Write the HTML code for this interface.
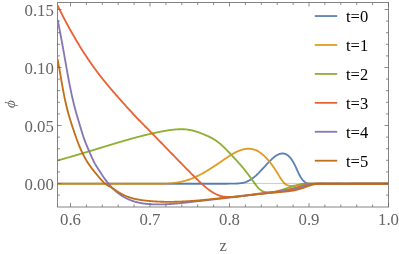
<!DOCTYPE html>
<html><head><meta charset="utf-8"><title>plot</title>
<style>html,body{margin:0;padding:0;background:#fff;width:399px;height:254px;overflow:hidden}body{position:relative;font-family:"Liberation Serif",serif}</style>
</head><body>
<svg width="399" height="254" viewBox="0 0 399 254" style="position:absolute;left:0;top:0">
<rect width="399" height="254" fill="#fff"/>
<defs><clipPath id="c"><rect x="57.50" y="2.50" width="331.00" height="204.50"/></clipPath></defs>
<g clip-path="url(#c)" fill="none" stroke-width="1.85" stroke-linejoin="round" stroke-linecap="butt">
<path d="M57.50 183.72 L57.97 183.72 L58.45 183.72 L58.92 183.72 L59.39 183.72 L59.87 183.72 L60.34 183.72 L60.81 183.72 L61.29 183.72 L61.76 183.72 L62.24 183.72 L62.71 183.72 L63.18 183.72 L63.66 183.72 L64.13 183.72 L64.60 183.72 L65.08 183.72 L65.55 183.72 L66.02 183.72 L66.50 183.72 L66.97 183.72 L67.44 183.72 L67.92 183.72 L68.39 183.72 L68.86 183.72 L69.34 183.72 L69.81 183.72 L70.29 183.72 L70.76 183.72 L71.23 183.72 L71.71 183.72 L72.18 183.72 L72.65 183.72 L73.13 183.72 L73.60 183.72 L74.07 183.72 L74.55 183.72 L75.02 183.72 L75.49 183.72 L75.97 183.72 L76.44 183.72 L76.91 183.72 L77.39 183.72 L77.86 183.72 L78.34 183.72 L78.81 183.72 L79.28 183.72 L79.76 183.72 L80.23 183.72 L80.70 183.72 L81.18 183.72 L81.65 183.72 L82.12 183.72 L82.60 183.72 L83.07 183.72 L83.54 183.72 L84.02 183.72 L84.49 183.72 L84.96 183.72 L85.44 183.72 L85.91 183.72 L86.39 183.72 L86.86 183.72 L87.33 183.72 L87.81 183.72 L88.28 183.72 L88.75 183.72 L89.23 183.72 L89.70 183.72 L90.17 183.72 L90.65 183.72 L91.12 183.72 L91.59 183.72 L92.07 183.72 L92.54 183.72 L93.02 183.72 L93.49 183.72 L93.96 183.72 L94.44 183.72 L94.91 183.72 L95.38 183.72 L95.86 183.72 L96.33 183.72 L96.80 183.72 L97.28 183.72 L97.75 183.72 L98.22 183.72 L98.70 183.72 L99.17 183.72 L99.64 183.72 L100.12 183.72 L100.59 183.72 L101.07 183.72 L101.54 183.72 L102.01 183.72 L102.49 183.72 L102.96 183.72 L103.43 183.72 L103.91 183.72 L104.38 183.72 L104.85 183.72 L105.33 183.72 L105.80 183.72 L106.27 183.72 L106.75 183.72 L107.22 183.72 L107.69 183.72 L108.17 183.72 L108.64 183.72 L109.12 183.72 L109.59 183.72 L110.06 183.72 L110.54 183.72 L111.01 183.72 L111.48 183.72 L111.96 183.72 L112.43 183.72 L112.90 183.72 L113.38 183.72 L113.85 183.72 L114.32 183.72 L114.80 183.72 L115.27 183.72 L115.74 183.72 L116.22 183.72 L116.69 183.72 L117.17 183.72 L117.64 183.72 L118.11 183.72 L118.59 183.72 L119.06 183.72 L119.53 183.72 L120.01 183.72 L120.48 183.72 L120.95 183.72 L121.43 183.72 L121.90 183.72 L122.37 183.72 L122.85 183.72 L123.32 183.72 L123.79 183.72 L124.27 183.72 L124.74 183.72 L125.22 183.72 L125.69 183.72 L126.16 183.72 L126.64 183.72 L127.11 183.72 L127.58 183.72 L128.06 183.72 L128.53 183.72 L129.00 183.72 L129.48 183.72 L129.95 183.72 L130.42 183.72 L130.90 183.72 L131.37 183.72 L131.84 183.72 L132.32 183.72 L132.79 183.72 L133.27 183.72 L133.74 183.72 L134.21 183.72 L134.69 183.72 L135.16 183.72 L135.63 183.72 L136.11 183.72 L136.58 183.72 L137.05 183.72 L137.53 183.72 L138.00 183.72 L138.47 183.72 L138.95 183.72 L139.42 183.72 L139.89 183.72 L140.37 183.72 L140.84 183.72 L141.32 183.72 L141.79 183.72 L142.26 183.72 L142.74 183.72 L143.21 183.72 L143.68 183.72 L144.16 183.72 L144.63 183.72 L145.10 183.72 L145.58 183.72 L146.05 183.72 L146.52 183.72 L147.00 183.72 L147.47 183.72 L147.94 183.72 L148.42 183.72 L148.89 183.72 L149.37 183.72 L149.84 183.72 L150.31 183.72 L150.79 183.72 L151.26 183.72 L151.73 183.72 L152.21 183.72 L152.68 183.72 L153.15 183.72 L153.63 183.72 L154.10 183.72 L154.57 183.72 L155.05 183.72 L155.52 183.72 L155.99 183.72 L156.47 183.72 L156.94 183.72 L157.42 183.72 L157.89 183.72 L158.36 183.72 L158.84 183.72 L159.31 183.72 L159.78 183.72 L160.26 183.72 L160.73 183.72 L161.20 183.72 L161.68 183.72 L162.15 183.72 L162.62 183.72 L163.10 183.72 L163.57 183.72 L164.05 183.72 L164.52 183.72 L164.99 183.72 L165.47 183.72 L165.94 183.72 L166.41 183.72 L166.89 183.72 L167.36 183.72 L167.83 183.72 L168.31 183.72 L168.78 183.72 L169.25 183.72 L169.73 183.72 L170.20 183.72 L170.67 183.72 L171.15 183.72 L171.62 183.72 L172.10 183.72 L172.57 183.72 L173.04 183.72 L173.52 183.72 L173.99 183.72 L174.46 183.72 L174.94 183.72 L175.41 183.72 L175.88 183.72 L176.36 183.72 L176.83 183.72 L177.30 183.72 L177.78 183.72 L178.25 183.72 L178.72 183.72 L179.20 183.72 L179.67 183.72 L180.15 183.72 L180.62 183.72 L181.09 183.72 L181.57 183.72 L182.04 183.72 L182.51 183.72 L182.99 183.72 L183.46 183.72 L183.93 183.72 L184.41 183.72 L184.88 183.72 L185.35 183.72 L185.83 183.72 L186.30 183.72 L186.77 183.72 L187.25 183.72 L187.72 183.72 L188.20 183.72 L188.67 183.72 L189.14 183.72 L189.62 183.72 L190.09 183.72 L190.56 183.72 L191.04 183.72 L191.51 183.72 L191.98 183.72 L192.46 183.72 L192.93 183.72 L193.40 183.72 L193.88 183.72 L194.35 183.71 L194.82 183.71 L195.30 183.71 L195.77 183.71 L196.25 183.71 L196.72 183.71 L197.19 183.71 L197.67 183.71 L198.14 183.71 L198.61 183.71 L199.09 183.71 L199.56 183.71 L200.03 183.71 L200.51 183.71 L200.98 183.71 L201.45 183.71 L201.93 183.71 L202.40 183.71 L202.87 183.71 L203.35 183.71 L203.82 183.71 L204.30 183.71 L204.77 183.71 L205.24 183.71 L205.72 183.71 L206.19 183.72 L206.66 183.72 L207.14 183.72 L207.61 183.72 L208.08 183.72 L208.56 183.72 L209.03 183.72 L209.50 183.72 L209.98 183.72 L210.45 183.72 L210.92 183.72 L211.40 183.72 L211.87 183.72 L212.35 183.72 L212.82 183.72 L213.29 183.72 L213.77 183.72 L214.24 183.72 L214.71 183.72 L215.19 183.72 L215.66 183.72 L216.13 183.72 L216.61 183.72 L217.08 183.72 L217.55 183.72 L218.03 183.72 L218.50 183.72 L218.97 183.72 L219.45 183.72 L219.92 183.72 L220.40 183.72 L220.87 183.72 L221.34 183.72 L221.82 183.72 L222.29 183.72 L222.76 183.72 L223.24 183.72 L223.71 183.72 L224.18 183.72 L224.66 183.72 L225.13 183.72 L225.60 183.72 L226.08 183.72 L226.55 183.71 L227.03 183.71 L227.50 183.70 L227.97 183.70 L228.45 183.70 L228.92 183.69 L229.39 183.69 L229.87 183.68 L230.34 183.67 L230.81 183.67 L231.29 183.66 L231.76 183.65 L232.23 183.65 L232.71 183.64 L233.18 183.63 L233.65 183.62 L234.13 183.61 L234.60 183.60 L235.08 183.59 L235.55 183.58 L236.02 183.56 L236.50 183.55 L236.97 183.53 L237.44 183.50 L237.92 183.47 L238.39 183.44 L238.86 183.41 L239.34 183.36 L239.81 183.32 L240.28 183.26 L240.76 183.20 L241.23 183.14 L241.70 183.06 L242.18 182.98 L242.65 182.89 L243.13 182.78 L243.60 182.67 L244.07 182.55 L244.55 182.42 L245.02 182.28 L245.49 182.13 L245.97 181.96 L246.44 181.78 L246.91 181.59 L247.39 181.39 L247.86 181.17 L248.33 180.94 L248.81 180.70 L249.28 180.44 L249.75 180.17 L250.23 179.88 L250.70 179.59 L251.18 179.28 L251.65 178.96 L252.12 178.63 L252.60 178.28 L253.07 177.93 L253.54 177.57 L254.02 177.19 L254.49 176.80 L254.96 176.41 L255.44 176.00 L255.91 175.59 L256.38 175.16 L256.86 174.73 L257.33 174.29 L257.80 173.83 L258.28 173.38 L258.75 172.91 L259.23 172.43 L259.70 171.95 L260.17 171.46 L260.65 170.97 L261.12 170.47 L261.59 169.96 L262.07 169.45 L262.54 168.93 L263.01 168.42 L263.49 167.89 L263.96 167.37 L264.43 166.85 L264.91 166.33 L265.38 165.80 L265.85 165.28 L266.33 164.76 L266.80 164.24 L267.28 163.73 L267.75 163.22 L268.22 162.71 L268.70 162.22 L269.17 161.72 L269.64 161.24 L270.12 160.76 L270.59 160.29 L271.06 159.83 L271.54 159.38 L272.01 158.94 L272.48 158.51 L272.96 158.10 L273.43 157.70 L273.90 157.31 L274.38 156.93 L274.85 156.57 L275.33 156.23 L275.80 155.91 L276.27 155.60 L276.75 155.31 L277.22 155.03 L277.69 154.78 L278.17 154.55 L278.64 154.34 L279.11 154.15 L279.59 153.98 L280.06 153.84 L280.53 153.72 L281.01 153.62 L281.48 153.55 L281.95 153.51 L282.43 153.49 L282.90 153.50 L283.38 153.54 L283.85 153.60 L284.32 153.70 L284.80 153.83 L285.27 153.98 L285.74 154.17 L286.22 154.39 L286.69 154.65 L287.16 154.94 L287.64 155.26 L288.11 155.62 L288.58 156.01 L289.06 156.44 L289.53 156.91 L290.01 157.42 L290.48 157.97 L290.95 158.57 L291.43 159.21 L291.90 159.89 L292.37 160.61 L292.85 161.39 L293.32 162.21 L293.79 163.08 L294.27 164.00 L294.74 164.95 L295.21 165.93 L295.69 166.94 L296.16 167.96 L296.63 169.00 L297.11 170.03 L297.58 171.06 L298.06 172.08 L298.53 173.08 L299.00 174.05 L299.48 174.99 L299.95 175.88 L300.42 176.73 L300.90 177.52 L301.37 178.26 L301.84 178.93 L302.32 179.54 L302.79 180.10 L303.26 180.61 L303.74 181.07 L304.21 181.48 L304.68 181.85 L305.16 182.18 L305.63 182.46 L306.11 182.71 L306.58 182.93 L307.05 183.12 L307.53 183.27 L308.00 183.41 L308.47 183.51 L308.95 183.60 L309.42 183.67 L309.89 183.72 L310.37 183.72 L310.84 183.72 L311.31 183.72 L311.79 183.72 L312.26 183.72 L312.73 183.72 L313.21 183.72 L313.68 183.72 L314.16 183.72 L314.63 183.72 L315.10 183.72 L315.58 183.72 L316.05 183.72 L316.52 183.72 L317.00 183.72 L317.47 183.72 L317.94 183.72 L318.42 183.72 L318.89 183.72 L319.36 183.72 L319.84 183.72 L320.31 183.72 L320.78 183.72 L321.26 183.72 L321.73 183.72 L322.21 183.72 L322.68 183.72 L323.15 183.72 L323.63 183.72 L324.10 183.72 L324.57 183.72 L325.05 183.72 L325.52 183.72 L325.99 183.72 L326.47 183.72 L326.94 183.72 L327.41 183.72 L327.89 183.72 L328.36 183.72 L328.83 183.72 L329.31 183.72 L329.78 183.72 L330.26 183.72 L330.73 183.72 L331.20 183.72 L331.68 183.72 L332.15 183.72 L332.62 183.72 L333.10 183.72 L333.57 183.72 L334.04 183.72 L334.52 183.72 L334.99 183.72 L335.46 183.71 L335.94 183.70 L336.41 183.70 L336.88 183.69 L337.36 183.68 L337.83 183.68 L338.31 183.67 L338.78 183.66 L339.25 183.66 L339.73 183.65 L340.20 183.65 L340.67 183.65 L341.15 183.64 L341.62 183.64 L342.09 183.64 L342.57 183.63 L343.04 183.63 L343.51 183.63 L343.99 183.63 L344.46 183.63 L344.93 183.62 L345.41 183.62 L345.88 183.62 L346.36 183.62 L346.83 183.62 L347.30 183.62 L347.78 183.62 L348.25 183.63 L348.72 183.63 L349.20 183.63 L349.67 183.63 L350.14 183.63 L350.62 183.63 L351.09 183.63 L351.56 183.64 L352.04 183.64 L352.51 183.64 L352.98 183.64 L353.46 183.65 L353.93 183.65 L354.41 183.65 L354.88 183.66 L355.35 183.66 L355.83 183.66 L356.30 183.67 L356.77 183.67 L357.25 183.67 L357.72 183.68 L358.19 183.68 L358.67 183.69 L359.14 183.69 L359.61 183.69 L360.09 183.70 L360.56 183.70 L361.04 183.71 L361.51 183.71 L361.98 183.71 L362.46 183.72 L362.93 183.72 L363.40 183.72 L363.88 183.72 L364.35 183.72 L364.82 183.72 L365.30 183.72 L365.77 183.72 L366.24 183.72 L366.72 183.72 L367.19 183.72 L367.66 183.72 L368.14 183.72 L368.61 183.72 L369.09 183.72 L369.56 183.72 L370.03 183.72 L370.51 183.72 L370.98 183.72 L371.45 183.72 L371.93 183.72 L372.40 183.72 L372.87 183.72 L373.35 183.72 L373.82 183.72 L374.29 183.72 L374.77 183.72 L375.24 183.72 L375.71 183.72 L376.19 183.72 L376.66 183.72 L377.14 183.72 L377.61 183.72 L378.08 183.72 L378.56 183.72 L379.03 183.72 L379.50 183.72 L379.98 183.72 L380.45 183.72 L380.92 183.72 L381.40 183.72 L381.87 183.72 L382.34 183.72 L382.82 183.72 L383.29 183.72 L383.76 183.72 L384.24 183.72 L384.71 183.72 L385.19 183.72 L385.66 183.71 L386.13 183.70 L386.61 183.70 L387.08 183.69 L387.55 183.68 L388.03 183.67 L388.50 183.66" stroke="#5E81B5"/>
<path d="M57.50 183.70 L57.97 183.70 L58.45 183.70 L58.92 183.71 L59.39 183.71 L59.87 183.71 L60.34 183.71 L60.81 183.71 L61.29 183.71 L61.76 183.71 L62.24 183.72 L62.71 183.72 L63.18 183.72 L63.66 183.72 L64.13 183.72 L64.60 183.72 L65.08 183.72 L65.55 183.72 L66.02 183.72 L66.50 183.72 L66.97 183.72 L67.44 183.72 L67.92 183.72 L68.39 183.72 L68.86 183.72 L69.34 183.72 L69.81 183.72 L70.29 183.72 L70.76 183.72 L71.23 183.72 L71.71 183.72 L72.18 183.72 L72.65 183.72 L73.13 183.72 L73.60 183.72 L74.07 183.72 L74.55 183.72 L75.02 183.72 L75.49 183.72 L75.97 183.72 L76.44 183.72 L76.91 183.72 L77.39 183.72 L77.86 183.72 L78.34 183.72 L78.81 183.72 L79.28 183.72 L79.76 183.72 L80.23 183.72 L80.70 183.72 L81.18 183.72 L81.65 183.72 L82.12 183.72 L82.60 183.72 L83.07 183.72 L83.54 183.72 L84.02 183.72 L84.49 183.72 L84.96 183.72 L85.44 183.72 L85.91 183.72 L86.39 183.72 L86.86 183.72 L87.33 183.72 L87.81 183.72 L88.28 183.72 L88.75 183.72 L89.23 183.72 L89.70 183.72 L90.17 183.72 L90.65 183.72 L91.12 183.72 L91.59 183.72 L92.07 183.72 L92.54 183.72 L93.02 183.72 L93.49 183.72 L93.96 183.72 L94.44 183.72 L94.91 183.72 L95.38 183.72 L95.86 183.72 L96.33 183.72 L96.80 183.72 L97.28 183.72 L97.75 183.72 L98.22 183.72 L98.70 183.72 L99.17 183.72 L99.64 183.71 L100.12 183.71 L100.59 183.71 L101.07 183.71 L101.54 183.71 L102.01 183.71 L102.49 183.71 L102.96 183.71 L103.43 183.71 L103.91 183.71 L104.38 183.71 L104.85 183.71 L105.33 183.71 L105.80 183.71 L106.27 183.71 L106.75 183.70 L107.22 183.70 L107.69 183.70 L108.17 183.70 L108.64 183.70 L109.12 183.70 L109.59 183.70 L110.06 183.70 L110.54 183.70 L111.01 183.70 L111.48 183.70 L111.96 183.70 L112.43 183.70 L112.90 183.70 L113.38 183.70 L113.85 183.70 L114.32 183.70 L114.80 183.70 L115.27 183.70 L115.74 183.70 L116.22 183.70 L116.69 183.70 L117.17 183.70 L117.64 183.70 L118.11 183.70 L118.59 183.70 L119.06 183.70 L119.53 183.70 L120.01 183.70 L120.48 183.70 L120.95 183.70 L121.43 183.70 L121.90 183.70 L122.37 183.70 L122.85 183.70 L123.32 183.70 L123.79 183.70 L124.27 183.70 L124.74 183.70 L125.22 183.70 L125.69 183.70 L126.16 183.70 L126.64 183.70 L127.11 183.70 L127.58 183.70 L128.06 183.70 L128.53 183.70 L129.00 183.70 L129.48 183.70 L129.95 183.70 L130.42 183.71 L130.90 183.71 L131.37 183.71 L131.84 183.71 L132.32 183.71 L132.79 183.71 L133.27 183.71 L133.74 183.71 L134.21 183.71 L134.69 183.72 L135.16 183.72 L135.63 183.72 L136.11 183.72 L136.58 183.72 L137.05 183.72 L137.53 183.72 L138.00 183.72 L138.47 183.72 L138.95 183.72 L139.42 183.72 L139.89 183.72 L140.37 183.72 L140.84 183.72 L141.32 183.72 L141.79 183.72 L142.26 183.72 L142.74 183.72 L143.21 183.72 L143.68 183.72 L144.16 183.72 L144.63 183.72 L145.10 183.72 L145.58 183.72 L146.05 183.72 L146.52 183.72 L147.00 183.72 L147.47 183.72 L147.94 183.72 L148.42 183.72 L148.89 183.72 L149.37 183.72 L149.84 183.72 L150.31 183.72 L150.79 183.72 L151.26 183.72 L151.73 183.72 L152.21 183.72 L152.68 183.72 L153.15 183.72 L153.63 183.72 L154.10 183.72 L154.57 183.72 L155.05 183.72 L155.52 183.72 L155.99 183.72 L156.47 183.72 L156.94 183.72 L157.42 183.72 L157.89 183.72 L158.36 183.72 L158.84 183.72 L159.31 183.72 L159.78 183.72 L160.26 183.72 L160.73 183.72 L161.20 183.72 L161.68 183.72 L162.15 183.72 L162.62 183.72 L163.10 183.72 L163.57 183.72 L164.05 183.70 L164.52 183.69 L164.99 183.67 L165.47 183.65 L165.94 183.62 L166.41 183.60 L166.89 183.58 L167.36 183.55 L167.83 183.52 L168.31 183.49 L168.78 183.45 L169.25 183.42 L169.73 183.38 L170.20 183.34 L170.67 183.30 L171.15 183.26 L171.62 183.21 L172.10 183.17 L172.57 183.12 L173.04 183.07 L173.52 183.01 L173.99 182.95 L174.46 182.89 L174.94 182.83 L175.41 182.77 L175.88 182.70 L176.36 182.63 L176.83 182.56 L177.30 182.48 L177.78 182.40 L178.25 182.32 L178.72 182.24 L179.20 182.15 L179.67 182.06 L180.15 181.97 L180.62 181.87 L181.09 181.77 L181.57 181.67 L182.04 181.56 L182.51 181.45 L182.99 181.34 L183.46 181.22 L183.93 181.10 L184.41 180.98 L184.88 180.85 L185.35 180.72 L185.83 180.58 L186.30 180.44 L186.77 180.30 L187.25 180.15 L187.72 180.00 L188.20 179.85 L188.67 179.69 L189.14 179.53 L189.62 179.36 L190.09 179.19 L190.56 179.02 L191.04 178.84 L191.51 178.66 L191.98 178.47 L192.46 178.28 L192.93 178.08 L193.40 177.88 L193.88 177.68 L194.35 177.48 L194.82 177.27 L195.30 177.05 L195.77 176.84 L196.25 176.61 L196.72 176.39 L197.19 176.16 L197.67 175.93 L198.14 175.70 L198.61 175.46 L199.09 175.22 L199.56 174.98 L200.03 174.73 L200.51 174.48 L200.98 174.23 L201.45 173.97 L201.93 173.71 L202.40 173.45 L202.87 173.19 L203.35 172.92 L203.82 172.65 L204.30 172.38 L204.77 172.11 L205.24 171.83 L205.72 171.55 L206.19 171.27 L206.66 170.99 L207.14 170.70 L207.61 170.41 L208.08 170.12 L208.56 169.83 L209.03 169.54 L209.50 169.24 L209.98 168.94 L210.45 168.64 L210.92 168.34 L211.40 168.04 L211.87 167.73 L212.35 167.43 L212.82 167.12 L213.29 166.81 L213.77 166.50 L214.24 166.19 L214.71 165.87 L215.19 165.56 L215.66 165.24 L216.13 164.93 L216.61 164.61 L217.08 164.29 L217.55 163.97 L218.03 163.65 L218.50 163.33 L218.97 163.01 L219.45 162.68 L219.92 162.36 L220.40 162.04 L220.87 161.71 L221.34 161.39 L221.82 161.06 L222.29 160.73 L222.76 160.41 L223.24 160.08 L223.71 159.76 L224.18 159.43 L224.66 159.11 L225.13 158.79 L225.60 158.47 L226.08 158.15 L226.55 157.83 L227.03 157.51 L227.50 157.20 L227.97 156.89 L228.45 156.58 L228.92 156.27 L229.39 155.97 L229.87 155.67 L230.34 155.37 L230.81 155.08 L231.29 154.79 L231.76 154.50 L232.23 154.22 L232.71 153.94 L233.18 153.67 L233.65 153.41 L234.13 153.14 L234.60 152.89 L235.08 152.64 L235.55 152.39 L236.02 152.15 L236.50 151.92 L236.97 151.69 L237.44 151.47 L237.92 151.26 L238.39 151.05 L238.86 150.85 L239.34 150.66 L239.81 150.48 L240.28 150.30 L240.76 150.13 L241.23 149.97 L241.70 149.82 L242.18 149.68 L242.65 149.55 L243.13 149.42 L243.60 149.31 L244.07 149.20 L244.55 149.11 L245.02 149.02 L245.49 148.94 L245.97 148.88 L246.44 148.82 L246.91 148.78 L247.39 148.74 L247.86 148.72 L248.33 148.71 L248.81 148.71 L249.28 148.72 L249.75 148.74 L250.23 148.78 L250.70 148.83 L251.18 148.89 L251.65 148.96 L252.12 149.05 L252.60 149.14 L253.07 149.26 L253.54 149.38 L254.02 149.52 L254.49 149.67 L254.96 149.84 L255.44 150.02 L255.91 150.22 L256.38 150.43 L256.86 150.65 L257.33 150.89 L257.80 151.14 L258.28 151.41 L258.75 151.69 L259.23 151.98 L259.70 152.29 L260.17 152.61 L260.65 152.95 L261.12 153.29 L261.59 153.66 L262.07 154.03 L262.54 154.42 L263.01 154.83 L263.49 155.24 L263.96 155.67 L264.43 156.11 L264.91 156.57 L265.38 157.04 L265.85 157.52 L266.33 158.01 L266.80 158.52 L267.28 159.04 L267.75 159.57 L268.22 160.12 L268.70 160.67 L269.17 161.24 L269.64 161.83 L270.12 162.42 L270.59 163.03 L271.06 163.65 L271.54 164.28 L272.01 164.92 L272.48 165.58 L272.96 166.25 L273.43 166.93 L273.90 167.62 L274.38 168.32 L274.85 169.03 L275.33 169.76 L275.80 170.50 L276.27 171.25 L276.75 172.01 L277.22 172.78 L277.69 173.55 L278.17 174.33 L278.64 175.11 L279.11 175.89 L279.59 176.66 L280.06 177.42 L280.53 178.16 L281.01 178.88 L281.48 179.58 L281.95 180.26 L282.43 180.91 L282.90 181.53 L283.38 182.11 L283.85 182.65 L284.32 183.14 L284.80 183.60 L285.27 184.00 L285.74 184.35 L286.22 184.65 L286.69 184.91 L287.16 185.13 L287.64 185.31 L288.11 185.46 L288.58 185.58 L289.06 185.68 L289.53 185.75 L290.01 185.81 L290.48 185.85 L290.95 185.87 L291.43 185.88 L291.90 185.87 L292.37 185.85 L292.85 185.81 L293.32 185.77 L293.79 185.71 L294.27 185.64 L294.74 185.57 L295.21 185.49 L295.69 185.40 L296.16 185.31 L296.63 185.22 L297.11 185.12 L297.58 185.02 L298.06 184.92 L298.53 184.82 L299.00 184.72 L299.48 184.62 L299.95 184.53 L300.42 184.44 L300.90 184.35 L301.37 184.28 L301.84 184.20 L302.32 184.13 L302.79 184.07 L303.26 184.01 L303.74 183.95 L304.21 183.90 L304.68 183.85 L305.16 183.81 L305.63 183.77 L306.11 183.73 L306.58 183.72 L307.05 183.72 L307.53 183.72 L308.00 183.72 L308.47 183.72 L308.95 183.72 L309.42 183.72 L309.89 183.72 L310.37 183.72 L310.84 183.72 L311.31 183.72 L311.79 183.72 L312.26 183.72 L312.73 183.72 L313.21 183.72 L313.68 183.72 L314.16 183.72 L314.63 183.72 L315.10 183.72 L315.58 183.72 L316.05 183.72 L316.52 183.72 L317.00 183.72 L317.47 183.72 L317.94 183.72 L318.42 183.72 L318.89 183.72 L319.36 183.72 L319.84 183.72 L320.31 183.72 L320.78 183.72 L321.26 183.72 L321.73 183.73 L322.21 183.74 L322.68 183.75 L323.15 183.76 L323.63 183.77 L324.10 183.78 L324.57 183.78 L325.05 183.79 L325.52 183.80 L325.99 183.80 L326.47 183.81 L326.94 183.81 L327.41 183.81 L327.89 183.81 L328.36 183.82 L328.83 183.82 L329.31 183.82 L329.78 183.82 L330.26 183.82 L330.73 183.82 L331.20 183.82 L331.68 183.82 L332.15 183.81 L332.62 183.81 L333.10 183.81 L333.57 183.81 L334.04 183.80 L334.52 183.80 L334.99 183.80 L335.46 183.79 L335.94 183.79 L336.41 183.78 L336.88 183.78 L337.36 183.77 L337.83 183.77 L338.31 183.77 L338.78 183.76 L339.25 183.76 L339.73 183.75 L340.20 183.75 L340.67 183.74 L341.15 183.74 L341.62 183.73 L342.09 183.73 L342.57 183.72 L343.04 183.72 L343.51 183.72 L343.99 183.72 L344.46 183.72 L344.93 183.72 L345.41 183.72 L345.88 183.72 L346.36 183.72 L346.83 183.72 L347.30 183.72 L347.78 183.72 L348.25 183.72 L348.72 183.72 L349.20 183.72 L349.67 183.72 L350.14 183.72 L350.62 183.72 L351.09 183.72 L351.56 183.72 L352.04 183.72 L352.51 183.72 L352.98 183.72 L353.46 183.72 L353.93 183.72 L354.41 183.72 L354.88 183.72 L355.35 183.72 L355.83 183.72 L356.30 183.72 L356.77 183.72 L357.25 183.72 L357.72 183.72 L358.19 183.72 L358.67 183.72 L359.14 183.72 L359.61 183.72 L360.09 183.72 L360.56 183.72 L361.04 183.72 L361.51 183.72 L361.98 183.72 L362.46 183.72 L362.93 183.72 L363.40 183.72 L363.88 183.72 L364.35 183.72 L364.82 183.72 L365.30 183.72 L365.77 183.72 L366.24 183.72 L366.72 183.72 L367.19 183.72 L367.66 183.72 L368.14 183.73 L368.61 183.73 L369.09 183.73 L369.56 183.73 L370.03 183.74 L370.51 183.74 L370.98 183.74 L371.45 183.74 L371.93 183.74 L372.40 183.75 L372.87 183.75 L373.35 183.75 L373.82 183.75 L374.29 183.75 L374.77 183.75 L375.24 183.75 L375.71 183.75 L376.19 183.75 L376.66 183.75 L377.14 183.76 L377.61 183.76 L378.08 183.76 L378.56 183.75 L379.03 183.75 L379.50 183.75 L379.98 183.75 L380.45 183.75 L380.92 183.75 L381.40 183.75 L381.87 183.75 L382.34 183.74 L382.82 183.74 L383.29 183.74 L383.76 183.74 L384.24 183.73 L384.71 183.73 L385.19 183.73 L385.66 183.72 L386.13 183.72 L386.61 183.72 L387.08 183.72 L387.55 183.72 L388.03 183.72 L388.50 183.72" stroke="#E19C24"/>
<path d="M57.50 160.45 L57.97 160.33 L58.45 160.20 L58.92 160.07 L59.39 159.94 L59.87 159.81 L60.34 159.68 L60.81 159.55 L61.29 159.42 L61.76 159.29 L62.24 159.16 L62.71 159.03 L63.18 158.90 L63.66 158.77 L64.13 158.63 L64.60 158.50 L65.08 158.37 L65.55 158.24 L66.02 158.10 L66.50 157.97 L66.97 157.83 L67.44 157.70 L67.92 157.57 L68.39 157.43 L68.86 157.30 L69.34 157.16 L69.81 157.02 L70.29 156.89 L70.76 156.75 L71.23 156.62 L71.71 156.48 L72.18 156.34 L72.65 156.20 L73.13 156.07 L73.60 155.93 L74.07 155.79 L74.55 155.65 L75.02 155.52 L75.49 155.38 L75.97 155.24 L76.44 155.10 L76.91 154.96 L77.39 154.82 L77.86 154.68 L78.34 154.54 L78.81 154.40 L79.28 154.26 L79.76 154.12 L80.23 153.98 L80.70 153.84 L81.18 153.70 L81.65 153.56 L82.12 153.42 L82.60 153.27 L83.07 153.13 L83.54 152.99 L84.02 152.85 L84.49 152.71 L84.96 152.56 L85.44 152.42 L85.91 152.28 L86.39 152.14 L86.86 152.00 L87.33 151.85 L87.81 151.71 L88.28 151.57 L88.75 151.42 L89.23 151.28 L89.70 151.14 L90.17 150.99 L90.65 150.85 L91.12 150.71 L91.59 150.56 L92.07 150.42 L92.54 150.28 L93.02 150.13 L93.49 149.99 L93.96 149.85 L94.44 149.70 L94.91 149.56 L95.38 149.41 L95.86 149.27 L96.33 149.13 L96.80 148.98 L97.28 148.84 L97.75 148.69 L98.22 148.55 L98.70 148.40 L99.17 148.26 L99.64 148.12 L100.12 147.97 L100.59 147.83 L101.07 147.68 L101.54 147.54 L102.01 147.40 L102.49 147.25 L102.96 147.11 L103.43 146.96 L103.91 146.82 L104.38 146.68 L104.85 146.53 L105.33 146.39 L105.80 146.24 L106.27 146.10 L106.75 145.96 L107.22 145.81 L107.69 145.67 L108.17 145.53 L108.64 145.38 L109.12 145.24 L109.59 145.10 L110.06 144.95 L110.54 144.81 L111.01 144.67 L111.48 144.53 L111.96 144.38 L112.43 144.24 L112.90 144.10 L113.38 143.96 L113.85 143.81 L114.32 143.67 L114.80 143.53 L115.27 143.39 L115.74 143.25 L116.22 143.11 L116.69 142.97 L117.17 142.82 L117.64 142.68 L118.11 142.54 L118.59 142.40 L119.06 142.26 L119.53 142.12 L120.01 141.98 L120.48 141.85 L120.95 141.71 L121.43 141.57 L121.90 141.43 L122.37 141.29 L122.85 141.15 L123.32 141.02 L123.79 140.88 L124.27 140.74 L124.74 140.60 L125.22 140.47 L125.69 140.33 L126.16 140.20 L126.64 140.06 L127.11 139.93 L127.58 139.79 L128.06 139.66 L128.53 139.52 L129.00 139.39 L129.48 139.26 L129.95 139.12 L130.42 138.99 L130.90 138.86 L131.37 138.73 L131.84 138.60 L132.32 138.47 L132.79 138.34 L133.27 138.21 L133.74 138.08 L134.21 137.95 L134.69 137.82 L135.16 137.69 L135.63 137.57 L136.11 137.44 L136.58 137.31 L137.05 137.19 L137.53 137.06 L138.00 136.94 L138.47 136.81 L138.95 136.69 L139.42 136.56 L139.89 136.44 L140.37 136.32 L140.84 136.20 L141.32 136.08 L141.79 135.96 L142.26 135.84 L142.74 135.72 L143.21 135.60 L143.68 135.48 L144.16 135.36 L144.63 135.25 L145.10 135.13 L145.58 135.01 L146.05 134.90 L146.52 134.78 L147.00 134.67 L147.47 134.56 L147.94 134.45 L148.42 134.33 L148.89 134.22 L149.37 134.11 L149.84 134.00 L150.31 133.89 L150.79 133.79 L151.26 133.68 L151.73 133.57 L152.21 133.47 L152.68 133.36 L153.15 133.26 L153.63 133.15 L154.10 133.05 L154.57 132.95 L155.05 132.85 L155.52 132.75 L155.99 132.65 L156.47 132.55 L156.94 132.45 L157.42 132.35 L157.89 132.25 L158.36 132.16 L158.84 132.06 L159.31 131.97 L159.78 131.88 L160.26 131.78 L160.73 131.69 L161.20 131.60 L161.68 131.51 L162.15 131.42 L162.62 131.34 L163.10 131.25 L163.57 131.16 L164.05 131.08 L164.52 130.99 L164.99 130.91 L165.47 130.83 L165.94 130.74 L166.41 130.66 L166.89 130.59 L167.36 130.51 L167.83 130.43 L168.31 130.36 L168.78 130.28 L169.25 130.21 L169.73 130.14 L170.20 130.07 L170.67 130.01 L171.15 129.94 L171.62 129.88 L172.10 129.82 L172.57 129.76 L173.04 129.70 L173.52 129.65 L173.99 129.60 L174.46 129.55 L174.94 129.51 L175.41 129.46 L175.88 129.42 L176.36 129.39 L176.83 129.35 L177.30 129.32 L177.78 129.30 L178.25 129.27 L178.72 129.25 L179.20 129.23 L179.67 129.22 L180.15 129.21 L180.62 129.20 L181.09 129.20 L181.57 129.20 L182.04 129.21 L182.51 129.21 L182.99 129.23 L183.46 129.25 L183.93 129.27 L184.41 129.29 L184.88 129.32 L185.35 129.36 L185.83 129.40 L186.30 129.45 L186.77 129.49 L187.25 129.55 L187.72 129.61 L188.20 129.67 L188.67 129.74 L189.14 129.82 L189.62 129.90 L190.09 129.99 L190.56 130.08 L191.04 130.18 L191.51 130.28 L191.98 130.39 L192.46 130.50 L192.93 130.62 L193.40 130.74 L193.88 130.87 L194.35 131.00 L194.82 131.13 L195.30 131.27 L195.77 131.42 L196.25 131.57 L196.72 131.72 L197.19 131.88 L197.67 132.04 L198.14 132.20 L198.61 132.36 L199.09 132.53 L199.56 132.71 L200.03 132.88 L200.51 133.06 L200.98 133.24 L201.45 133.43 L201.93 133.61 L202.40 133.80 L202.87 133.99 L203.35 134.19 L203.82 134.38 L204.30 134.58 L204.77 134.78 L205.24 134.98 L205.72 135.18 L206.19 135.38 L206.66 135.58 L207.14 135.79 L207.61 136.00 L208.08 136.22 L208.56 136.43 L209.03 136.65 L209.50 136.88 L209.98 137.11 L210.45 137.35 L210.92 137.59 L211.40 137.84 L211.87 138.09 L212.35 138.35 L212.82 138.62 L213.29 138.89 L213.77 139.18 L214.24 139.47 L214.71 139.77 L215.19 140.08 L215.66 140.40 L216.13 140.73 L216.61 141.07 L217.08 141.42 L217.55 141.77 L218.03 142.14 L218.50 142.51 L218.97 142.89 L219.45 143.27 L219.92 143.67 L220.40 144.07 L220.87 144.48 L221.34 144.89 L221.82 145.32 L222.29 145.74 L222.76 146.18 L223.24 146.62 L223.71 147.06 L224.18 147.51 L224.66 147.97 L225.13 148.43 L225.60 148.89 L226.08 149.36 L226.55 149.84 L227.03 150.32 L227.50 150.80 L227.97 151.28 L228.45 151.77 L228.92 152.26 L229.39 152.76 L229.87 153.25 L230.34 153.75 L230.81 154.26 L231.29 154.76 L231.76 155.26 L232.23 155.77 L232.71 156.28 L233.18 156.79 L233.65 157.30 L234.13 157.81 L234.60 158.33 L235.08 158.84 L235.55 159.36 L236.02 159.88 L236.50 160.40 L236.97 160.92 L237.44 161.45 L237.92 161.98 L238.39 162.51 L238.86 163.05 L239.34 163.58 L239.81 164.12 L240.28 164.67 L240.76 165.22 L241.23 165.77 L241.70 166.33 L242.18 166.89 L242.65 167.45 L243.13 168.02 L243.60 168.59 L244.07 169.17 L244.55 169.75 L245.02 170.34 L245.49 170.93 L245.97 171.53 L246.44 172.13 L246.91 172.74 L247.39 173.36 L247.86 173.98 L248.33 174.60 L248.81 175.24 L249.28 175.88 L249.75 176.52 L250.23 177.17 L250.70 177.83 L251.18 178.49 L251.65 179.16 L252.12 179.83 L252.60 180.50 L253.07 181.16 L253.54 181.83 L254.02 182.49 L254.49 183.14 L254.96 183.79 L255.44 184.42 L255.91 185.05 L256.38 185.66 L256.86 186.25 L257.33 186.83 L257.80 187.37 L258.28 187.89 L258.75 188.38 L259.23 188.84 L259.70 189.26 L260.17 189.65 L260.65 190.00 L261.12 190.33 L261.59 190.62 L262.07 190.89 L262.54 191.13 L263.01 191.35 L263.49 191.54 L263.96 191.71 L264.43 191.85 L264.91 191.98 L265.38 192.09 L265.85 192.18 L266.33 192.25 L266.80 192.31 L267.28 192.35 L267.75 192.39 L268.22 192.41 L268.70 192.42 L269.17 192.42 L269.64 192.42 L270.12 192.40 L270.59 192.37 L271.06 192.34 L271.54 192.30 L272.01 192.25 L272.48 192.19 L272.96 192.12 L273.43 192.05 L273.90 191.97 L274.38 191.89 L274.85 191.79 L275.33 191.69 L275.80 191.59 L276.27 191.48 L276.75 191.37 L277.22 191.25 L277.69 191.12 L278.17 190.99 L278.64 190.86 L279.11 190.72 L279.59 190.58 L280.06 190.44 L280.53 190.30 L281.01 190.15 L281.48 190.00 L281.95 189.84 L282.43 189.69 L282.90 189.54 L283.38 189.38 L283.85 189.22 L284.32 189.06 L284.80 188.90 L285.27 188.75 L285.74 188.59 L286.22 188.43 L286.69 188.28 L287.16 188.12 L287.64 187.97 L288.11 187.81 L288.58 187.66 L289.06 187.52 L289.53 187.37 L290.01 187.23 L290.48 187.09 L290.95 186.95 L291.43 186.81 L291.90 186.68 L292.37 186.54 L292.85 186.41 L293.32 186.29 L293.79 186.16 L294.27 186.04 L294.74 185.92 L295.21 185.80 L295.69 185.69 L296.16 185.57 L296.63 185.47 L297.11 185.36 L297.58 185.26 L298.06 185.15 L298.53 185.06 L299.00 184.96 L299.48 184.87 L299.95 184.78 L300.42 184.69 L300.90 184.61 L301.37 184.53 L301.84 184.46 L302.32 184.38 L302.79 184.31 L303.26 184.25 L303.74 184.18 L304.21 184.12 L304.68 184.07 L305.16 184.01 L305.63 183.96 L306.11 183.92 L306.58 183.88 L307.05 183.84 L307.53 183.80 L308.00 183.77 L308.47 183.74 L308.95 183.72 L309.42 183.72 L309.89 183.72 L310.37 183.72 L310.84 183.72 L311.31 183.72 L311.79 183.72 L312.26 183.72 L312.73 183.72 L313.21 183.72 L313.68 183.72 L314.16 183.72 L314.63 183.72 L315.10 183.72 L315.58 183.72 L316.05 183.72 L316.52 183.72 L317.00 183.72 L317.47 183.72 L317.94 183.72 L318.42 183.72 L318.89 183.72 L319.36 183.72 L319.84 183.72 L320.31 183.72 L320.78 183.72 L321.26 183.72 L321.73 183.72 L322.21 183.72 L322.68 183.72 L323.15 183.72 L323.63 183.72 L324.10 183.72 L324.57 183.72 L325.05 183.72 L325.52 183.72 L325.99 183.72 L326.47 183.72 L326.94 183.72 L327.41 183.72 L327.89 183.72 L328.36 183.72 L328.83 183.72 L329.31 183.73 L329.78 183.73 L330.26 183.74 L330.73 183.74 L331.20 183.74 L331.68 183.75 L332.15 183.75 L332.62 183.75 L333.10 183.75 L333.57 183.76 L334.04 183.76 L334.52 183.76 L334.99 183.76 L335.46 183.76 L335.94 183.77 L336.41 183.77 L336.88 183.77 L337.36 183.77 L337.83 183.77 L338.31 183.77 L338.78 183.77 L339.25 183.77 L339.73 183.77 L340.20 183.77 L340.67 183.77 L341.15 183.77 L341.62 183.77 L342.09 183.77 L342.57 183.77 L343.04 183.77 L343.51 183.77 L343.99 183.77 L344.46 183.77 L344.93 183.77 L345.41 183.77 L345.88 183.77 L346.36 183.77 L346.83 183.77 L347.30 183.76 L347.78 183.76 L348.25 183.76 L348.72 183.76 L349.20 183.76 L349.67 183.76 L350.14 183.76 L350.62 183.75 L351.09 183.75 L351.56 183.75 L352.04 183.75 L352.51 183.75 L352.98 183.74 L353.46 183.74 L353.93 183.74 L354.41 183.74 L354.88 183.74 L355.35 183.73 L355.83 183.73 L356.30 183.73 L356.77 183.73 L357.25 183.73 L357.72 183.72 L358.19 183.72 L358.67 183.72 L359.14 183.72 L359.61 183.72 L360.09 183.72 L360.56 183.72 L361.04 183.72 L361.51 183.72 L361.98 183.72 L362.46 183.72 L362.93 183.72 L363.40 183.72 L363.88 183.72 L364.35 183.72 L364.82 183.72 L365.30 183.72 L365.77 183.72 L366.24 183.72 L366.72 183.72 L367.19 183.72 L367.66 183.72 L368.14 183.72 L368.61 183.72 L369.09 183.72 L369.56 183.72 L370.03 183.72 L370.51 183.72 L370.98 183.72 L371.45 183.72 L371.93 183.72 L372.40 183.72 L372.87 183.72 L373.35 183.72 L373.82 183.72 L374.29 183.72 L374.77 183.72 L375.24 183.72 L375.71 183.72 L376.19 183.72 L376.66 183.72 L377.14 183.72 L377.61 183.72 L378.08 183.72 L378.56 183.72 L379.03 183.72 L379.50 183.72 L379.98 183.72 L380.45 183.72 L380.92 183.72 L381.40 183.72 L381.87 183.72 L382.34 183.72 L382.82 183.72 L383.29 183.72 L383.76 183.72 L384.24 183.72 L384.71 183.72 L385.19 183.73 L385.66 183.73 L386.13 183.74 L386.61 183.74 L387.08 183.75 L387.55 183.75 L388.03 183.76 L388.50 183.76" stroke="#8FB032"/>
<path d="M57.50 5.30 L57.97 6.27 L58.45 7.24 L58.92 8.20 L59.39 9.16 L59.87 10.11 L60.34 11.06 L60.81 12.01 L61.29 12.95 L61.76 13.88 L62.24 14.81 L62.71 15.74 L63.18 16.66 L63.66 17.57 L64.13 18.49 L64.60 19.39 L65.08 20.30 L65.55 21.19 L66.02 22.09 L66.50 22.98 L66.97 23.86 L67.44 24.74 L67.92 25.62 L68.39 26.49 L68.86 27.36 L69.34 28.22 L69.81 29.08 L70.29 29.94 L70.76 30.79 L71.23 31.63 L71.71 32.47 L72.18 33.31 L72.65 34.14 L73.13 34.97 L73.60 35.80 L74.07 36.62 L74.55 37.44 L75.02 38.25 L75.49 39.06 L75.97 39.86 L76.44 40.66 L76.91 41.45 L77.39 42.25 L77.86 43.03 L78.34 43.82 L78.81 44.60 L79.28 45.37 L79.76 46.14 L80.23 46.91 L80.70 47.67 L81.18 48.43 L81.65 49.19 L82.12 49.94 L82.60 50.69 L83.07 51.43 L83.54 52.17 L84.02 52.91 L84.49 53.64 L84.96 54.37 L85.44 55.09 L85.91 55.81 L86.39 56.53 L86.86 57.24 L87.33 57.95 L87.81 58.66 L88.28 59.36 L88.75 60.06 L89.23 60.75 L89.70 61.44 L90.17 62.13 L90.65 62.81 L91.12 63.49 L91.59 64.17 L92.07 64.84 L92.54 65.51 L93.02 66.17 L93.49 66.84 L93.96 67.49 L94.44 68.15 L94.91 68.80 L95.38 69.45 L95.86 70.09 L96.33 70.73 L96.80 71.37 L97.28 72.00 L97.75 72.63 L98.22 73.26 L98.70 73.88 L99.17 74.50 L99.64 75.12 L100.12 75.74 L100.59 76.35 L101.07 76.95 L101.54 77.56 L102.01 78.16 L102.49 78.75 L102.96 79.35 L103.43 79.94 L103.91 80.53 L104.38 81.12 L104.85 81.70 L105.33 82.28 L105.80 82.86 L106.27 83.44 L106.75 84.01 L107.22 84.58 L107.69 85.15 L108.17 85.72 L108.64 86.28 L109.12 86.85 L109.59 87.41 L110.06 87.96 L110.54 88.52 L111.01 89.08 L111.48 89.63 L111.96 90.18 L112.43 90.73 L112.90 91.28 L113.38 91.83 L113.85 92.38 L114.32 92.92 L114.80 93.47 L115.27 94.01 L115.74 94.55 L116.22 95.09 L116.69 95.63 L117.17 96.17 L117.64 96.71 L118.11 97.25 L118.59 97.78 L119.06 98.32 L119.53 98.86 L120.01 99.39 L120.48 99.93 L120.95 100.46 L121.43 100.99 L121.90 101.53 L122.37 102.06 L122.85 102.59 L123.32 103.12 L123.79 103.65 L124.27 104.17 L124.74 104.70 L125.22 105.23 L125.69 105.75 L126.16 106.28 L126.64 106.80 L127.11 107.32 L127.58 107.84 L128.06 108.36 L128.53 108.88 L129.00 109.40 L129.48 109.92 L129.95 110.43 L130.42 110.95 L130.90 111.46 L131.37 111.97 L131.84 112.49 L132.32 113.00 L132.79 113.50 L133.27 114.01 L133.74 114.52 L134.21 115.02 L134.69 115.53 L135.16 116.03 L135.63 116.53 L136.11 117.03 L136.58 117.53 L137.05 118.02 L137.53 118.52 L138.00 119.01 L138.47 119.51 L138.95 120.00 L139.42 120.49 L139.89 120.97 L140.37 121.46 L140.84 121.95 L141.32 122.43 L141.79 122.91 L142.26 123.40 L142.74 123.88 L143.21 124.36 L143.68 124.84 L144.16 125.32 L144.63 125.80 L145.10 126.28 L145.58 126.76 L146.05 127.24 L146.52 127.72 L147.00 128.20 L147.47 128.68 L147.94 129.16 L148.42 129.65 L148.89 130.13 L149.37 130.61 L149.84 131.09 L150.31 131.58 L150.79 132.06 L151.26 132.54 L151.73 133.03 L152.21 133.51 L152.68 134.00 L153.15 134.48 L153.63 134.96 L154.10 135.45 L154.57 135.94 L155.05 136.42 L155.52 136.91 L155.99 137.39 L156.47 137.88 L156.94 138.37 L157.42 138.85 L157.89 139.34 L158.36 139.83 L158.84 140.31 L159.31 140.80 L159.78 141.29 L160.26 141.78 L160.73 142.26 L161.20 142.75 L161.68 143.24 L162.15 143.73 L162.62 144.21 L163.10 144.70 L163.57 145.19 L164.05 145.68 L164.52 146.17 L164.99 146.66 L165.47 147.14 L165.94 147.63 L166.41 148.12 L166.89 148.61 L167.36 149.10 L167.83 149.59 L168.31 150.07 L168.78 150.56 L169.25 151.05 L169.73 151.54 L170.20 152.03 L170.67 152.52 L171.15 153.00 L171.62 153.49 L172.10 153.98 L172.57 154.47 L173.04 154.96 L173.52 155.44 L173.99 155.93 L174.46 156.42 L174.94 156.91 L175.41 157.39 L175.88 157.88 L176.36 158.37 L176.83 158.86 L177.30 159.34 L177.78 159.83 L178.25 160.31 L178.72 160.80 L179.20 161.29 L179.67 161.77 L180.15 162.26 L180.62 162.74 L181.09 163.23 L181.57 163.71 L182.04 164.20 L182.51 164.68 L182.99 165.17 L183.46 165.65 L183.93 166.13 L184.41 166.62 L184.88 167.10 L185.35 167.58 L185.83 168.06 L186.30 168.55 L186.77 169.03 L187.25 169.51 L187.72 169.99 L188.20 170.47 L188.67 170.95 L189.14 171.43 L189.62 171.91 L190.09 172.39 L190.56 172.87 L191.04 173.34 L191.51 173.82 L191.98 174.30 L192.46 174.78 L192.93 175.25 L193.40 175.73 L193.88 176.20 L194.35 176.67 L194.82 177.15 L195.30 177.62 L195.77 178.09 L196.25 178.55 L196.72 179.02 L197.19 179.48 L197.67 179.94 L198.14 180.40 L198.61 180.85 L199.09 181.31 L199.56 181.76 L200.03 182.20 L200.51 182.65 L200.98 183.09 L201.45 183.52 L201.93 183.95 L202.40 184.38 L202.87 184.80 L203.35 185.22 L203.82 185.64 L204.30 186.05 L204.77 186.45 L205.24 186.85 L205.72 187.25 L206.19 187.63 L206.66 188.02 L207.14 188.39 L207.61 188.77 L208.08 189.13 L208.56 189.49 L209.03 189.84 L209.50 190.19 L209.98 190.53 L210.45 190.86 L210.92 191.18 L211.40 191.50 L211.87 191.81 L212.35 192.11 L212.82 192.41 L213.29 192.69 L213.77 192.97 L214.24 193.24 L214.71 193.50 L215.19 193.75 L215.66 194.00 L216.13 194.23 L216.61 194.46 L217.08 194.67 L217.55 194.88 L218.03 195.07 L218.50 195.26 L218.97 195.43 L219.45 195.60 L219.92 195.76 L220.40 195.90 L220.87 196.03 L221.34 196.16 L221.82 196.27 L222.29 196.37 L222.76 196.46 L223.24 196.54 L223.71 196.62 L224.18 196.68 L224.66 196.74 L225.13 196.79 L225.60 196.84 L226.08 196.87 L226.55 196.90 L227.03 196.93 L227.50 196.95 L227.97 196.97 L228.45 196.98 L228.92 196.99 L229.39 197.00 L229.87 197.00 L230.34 197.00 L230.81 196.99 L231.29 196.98 L231.76 196.97 L232.23 196.95 L232.71 196.94 L233.18 196.91 L233.65 196.89 L234.13 196.86 L234.60 196.83 L235.08 196.80 L235.55 196.77 L236.02 196.73 L236.50 196.69 L236.97 196.64 L237.44 196.60 L237.92 196.55 L238.39 196.50 L238.86 196.45 L239.34 196.40 L239.81 196.35 L240.28 196.29 L240.76 196.23 L241.23 196.17 L241.70 196.11 L242.18 196.05 L242.65 195.98 L243.13 195.92 L243.60 195.85 L244.07 195.79 L244.55 195.72 L245.02 195.65 L245.49 195.58 L245.97 195.51 L246.44 195.44 L246.91 195.37 L247.39 195.30 L247.86 195.22 L248.33 195.15 L248.81 195.08 L249.28 195.01 L249.75 194.93 L250.23 194.86 L250.70 194.79 L251.18 194.72 L251.65 194.64 L252.12 194.57 L252.60 194.50 L253.07 194.43 L253.54 194.36 L254.02 194.29 L254.49 194.23 L254.96 194.16 L255.44 194.09 L255.91 194.03 L256.38 193.96 L256.86 193.90 L257.33 193.84 L257.80 193.78 L258.28 193.72 L258.75 193.66 L259.23 193.60 L259.70 193.54 L260.17 193.48 L260.65 193.43 L261.12 193.37 L261.59 193.32 L262.07 193.26 L262.54 193.20 L263.01 193.15 L263.49 193.10 L263.96 193.04 L264.43 192.99 L264.91 192.93 L265.38 192.88 L265.85 192.83 L266.33 192.77 L266.80 192.72 L267.28 192.67 L267.75 192.61 L268.22 192.56 L268.70 192.50 L269.17 192.45 L269.64 192.40 L270.12 192.34 L270.59 192.29 L271.06 192.23 L271.54 192.18 L272.01 192.12 L272.48 192.06 L272.96 192.01 L273.43 191.95 L273.90 191.89 L274.38 191.83 L274.85 191.77 L275.33 191.71 L275.80 191.65 L276.27 191.58 L276.75 191.52 L277.22 191.46 L277.69 191.39 L278.17 191.32 L278.64 191.26 L279.11 191.19 L279.59 191.12 L280.06 191.05 L280.53 190.97 L281.01 190.90 L281.48 190.83 L281.95 190.75 L282.43 190.67 L282.90 190.59 L283.38 190.51 L283.85 190.43 L284.32 190.34 L284.80 190.26 L285.27 190.17 L285.74 190.08 L286.22 189.99 L286.69 189.90 L287.16 189.80 L287.64 189.71 L288.11 189.61 L288.58 189.51 L289.06 189.40 L289.53 189.30 L290.01 189.19 L290.48 189.08 L290.95 188.97 L291.43 188.86 L291.90 188.74 L292.37 188.62 L292.85 188.50 L293.32 188.38 L293.79 188.25 L294.27 188.13 L294.74 188.00 L295.21 187.87 L295.69 187.74 L296.16 187.60 L296.63 187.47 L297.11 187.34 L297.58 187.20 L298.06 187.07 L298.53 186.93 L299.00 186.80 L299.48 186.66 L299.95 186.53 L300.42 186.40 L300.90 186.27 L301.37 186.14 L301.84 186.01 L302.32 185.88 L302.79 185.76 L303.26 185.63 L303.74 185.51 L304.21 185.39 L304.68 185.28 L305.16 185.17 L305.63 185.06 L306.11 184.95 L306.58 184.85 L307.05 184.75 L307.53 184.66 L308.00 184.57 L308.47 184.49 L308.95 184.40 L309.42 184.33 L309.89 184.26 L310.37 184.19 L310.84 184.12 L311.31 184.06 L311.79 184.01 L312.26 183.95 L312.73 183.90 L313.21 183.86 L313.68 183.82 L314.16 183.78 L314.63 183.74 L315.10 183.72 L315.58 183.72 L316.05 183.72 L316.52 183.72 L317.00 183.72 L317.47 183.72 L317.94 183.72 L318.42 183.72 L318.89 183.72 L319.36 183.72 L319.84 183.72 L320.31 183.72 L320.78 183.72 L321.26 183.72 L321.73 183.72 L322.21 183.72 L322.68 183.72 L323.15 183.72 L323.63 183.72 L324.10 183.72 L324.57 183.72 L325.05 183.72 L325.52 183.72 L325.99 183.72 L326.47 183.72 L326.94 183.72 L327.41 183.72 L327.89 183.72 L328.36 183.72 L328.83 183.72 L329.31 183.72 L329.78 183.72 L330.26 183.72 L330.73 183.72 L331.20 183.72 L331.68 183.72 L332.15 183.72 L332.62 183.72 L333.10 183.72 L333.57 183.72 L334.04 183.73 L334.52 183.73 L334.99 183.74 L335.46 183.75 L335.94 183.75 L336.41 183.76 L336.88 183.76 L337.36 183.77 L337.83 183.77 L338.31 183.78 L338.78 183.78 L339.25 183.79 L339.73 183.79 L340.20 183.79 L340.67 183.79 L341.15 183.80 L341.62 183.80 L342.09 183.80 L342.57 183.80 L343.04 183.80 L343.51 183.80 L343.99 183.81 L344.46 183.81 L344.93 183.81 L345.41 183.81 L345.88 183.81 L346.36 183.81 L346.83 183.80 L347.30 183.80 L347.78 183.80 L348.25 183.80 L348.72 183.80 L349.20 183.80 L349.67 183.80 L350.14 183.80 L350.62 183.79 L351.09 183.79 L351.56 183.79 L352.04 183.79 L352.51 183.78 L352.98 183.78 L353.46 183.78 L353.93 183.78 L354.41 183.77 L354.88 183.77 L355.35 183.77 L355.83 183.76 L356.30 183.76 L356.77 183.76 L357.25 183.75 L357.72 183.75 L358.19 183.75 L358.67 183.74 L359.14 183.74 L359.61 183.74 L360.09 183.73 L360.56 183.73 L361.04 183.73 L361.51 183.72 L361.98 183.72 L362.46 183.72 L362.93 183.72 L363.40 183.72 L363.88 183.72 L364.35 183.72 L364.82 183.72 L365.30 183.72 L365.77 183.72 L366.24 183.72 L366.72 183.72 L367.19 183.72 L367.66 183.72 L368.14 183.72 L368.61 183.72 L369.09 183.72 L369.56 183.72 L370.03 183.72 L370.51 183.72 L370.98 183.72 L371.45 183.72 L371.93 183.72 L372.40 183.72 L372.87 183.72 L373.35 183.72 L373.82 183.72 L374.29 183.72 L374.77 183.72 L375.24 183.72 L375.71 183.72 L376.19 183.72 L376.66 183.72 L377.14 183.72 L377.61 183.72 L378.08 183.72 L378.56 183.72 L379.03 183.72 L379.50 183.72 L379.98 183.72 L380.45 183.72 L380.92 183.72 L381.40 183.72 L381.87 183.72 L382.34 183.72 L382.82 183.72 L383.29 183.72 L383.76 183.72 L384.24 183.72 L384.71 183.72 L385.19 183.72 L385.66 183.73 L386.13 183.74 L386.61 183.74 L387.08 183.75 L387.55 183.76 L388.03 183.77 L388.50 183.78" stroke="#EB6235"/>
<path d="M57.50 19.68 L57.97 21.83 L58.45 24.04 L58.92 26.33 L59.39 28.67 L59.87 31.07 L60.34 33.52 L60.81 36.02 L61.29 38.55 L61.76 41.13 L62.24 43.73 L62.71 46.37 L63.18 49.02 L63.66 51.69 L64.13 54.38 L64.60 57.06 L65.08 59.76 L65.55 62.44 L66.02 65.12 L66.50 67.79 L66.97 70.44 L67.44 73.06 L67.92 75.66 L68.39 78.22 L68.86 80.75 L69.34 83.23 L69.81 85.67 L70.29 88.05 L70.76 90.38 L71.23 92.64 L71.71 94.83 L72.18 96.96 L72.65 99.02 L73.13 101.02 L73.60 102.96 L74.07 104.86 L74.55 106.70 L75.02 108.50 L75.49 110.26 L75.97 111.98 L76.44 113.67 L76.91 115.33 L77.39 116.97 L77.86 118.59 L78.34 120.19 L78.81 121.78 L79.28 123.36 L79.76 124.94 L80.23 126.52 L80.70 128.09 L81.18 129.67 L81.65 131.23 L82.12 132.77 L82.60 134.28 L83.07 135.76 L83.54 137.20 L84.02 138.59 L84.49 139.92 L84.96 141.19 L85.44 142.41 L85.91 143.59 L86.39 144.74 L86.86 145.87 L87.33 146.98 L87.81 148.10 L88.28 149.21 L88.75 150.33 L89.23 151.44 L89.70 152.55 L90.17 153.65 L90.65 154.74 L91.12 155.81 L91.59 156.88 L92.07 157.92 L92.54 158.94 L93.02 159.94 L93.49 160.92 L93.96 161.86 L94.44 162.78 L94.91 163.67 L95.38 164.51 L95.86 165.33 L96.33 166.10 L96.80 166.85 L97.28 167.58 L97.75 168.29 L98.22 168.99 L98.70 169.70 L99.17 170.40 L99.64 171.12 L100.12 171.85 L100.59 172.59 L101.07 173.32 L101.54 174.06 L102.01 174.79 L102.49 175.50 L102.96 176.21 L103.43 176.91 L103.91 177.59 L104.38 178.27 L104.85 178.93 L105.33 179.58 L105.80 180.23 L106.27 180.86 L106.75 181.48 L107.22 182.09 L107.69 182.68 L108.17 183.27 L108.64 183.85 L109.12 184.41 L109.59 184.96 L110.06 185.50 L110.54 186.03 L111.01 186.55 L111.48 187.06 L111.96 187.56 L112.43 188.05 L112.90 188.53 L113.38 188.99 L113.85 189.45 L114.32 189.90 L114.80 190.33 L115.27 190.76 L115.74 191.18 L116.22 191.59 L116.69 191.99 L117.17 192.38 L117.64 192.76 L118.11 193.13 L118.59 193.50 L119.06 193.85 L119.53 194.20 L120.01 194.53 L120.48 194.86 L120.95 195.19 L121.43 195.50 L121.90 195.81 L122.37 196.10 L122.85 196.40 L123.32 196.68 L123.79 196.96 L124.27 197.22 L124.74 197.49 L125.22 197.74 L125.69 197.99 L126.16 198.23 L126.64 198.47 L127.11 198.70 L127.58 198.92 L128.06 199.14 L128.53 199.35 L129.00 199.55 L129.48 199.75 L129.95 199.95 L130.42 200.13 L130.90 200.32 L131.37 200.50 L131.84 200.67 L132.32 200.84 L132.79 201.00 L133.27 201.16 L133.74 201.31 L134.21 201.46 L134.69 201.60 L135.16 201.74 L135.63 201.88 L136.11 202.01 L136.58 202.13 L137.05 202.25 L137.53 202.37 L138.00 202.48 L138.47 202.59 L138.95 202.70 L139.42 202.80 L139.89 202.90 L140.37 202.99 L140.84 203.08 L141.32 203.16 L141.79 203.25 L142.26 203.33 L142.74 203.40 L143.21 203.47 L143.68 203.54 L144.16 203.61 L144.63 203.67 L145.10 203.73 L145.58 203.79 L146.05 203.84 L146.52 203.89 L147.00 203.94 L147.47 203.98 L147.94 204.03 L148.42 204.07 L148.89 204.10 L149.37 204.14 L149.84 204.17 L150.31 204.20 L150.79 204.23 L151.26 204.26 L151.73 204.28 L152.21 204.31 L152.68 204.33 L153.15 204.35 L153.63 204.37 L154.10 204.38 L154.57 204.39 L155.05 204.41 L155.52 204.42 L155.99 204.43 L156.47 204.43 L156.94 204.44 L157.42 204.44 L157.89 204.44 L158.36 204.44 L158.84 204.44 L159.31 204.44 L159.78 204.44 L160.26 204.43 L160.73 204.42 L161.20 204.42 L161.68 204.41 L162.15 204.40 L162.62 204.38 L163.10 204.37 L163.57 204.35 L164.05 204.34 L164.52 204.32 L164.99 204.30 L165.47 204.28 L165.94 204.26 L166.41 204.24 L166.89 204.21 L167.36 204.19 L167.83 204.16 L168.31 204.13 L168.78 204.10 L169.25 204.08 L169.73 204.04 L170.20 204.01 L170.67 203.98 L171.15 203.95 L171.62 203.91 L172.10 203.88 L172.57 203.84 L173.04 203.80 L173.52 203.77 L173.99 203.73 L174.46 203.69 L174.94 203.65 L175.41 203.61 L175.88 203.57 L176.36 203.52 L176.83 203.48 L177.30 203.44 L177.78 203.39 L178.25 203.35 L178.72 203.30 L179.20 203.26 L179.67 203.21 L180.15 203.16 L180.62 203.11 L181.09 203.07 L181.57 203.02 L182.04 202.97 L182.51 202.92 L182.99 202.87 L183.46 202.82 L183.93 202.77 L184.41 202.72 L184.88 202.67 L185.35 202.61 L185.83 202.56 L186.30 202.51 L186.77 202.46 L187.25 202.41 L187.72 202.35 L188.20 202.30 L188.67 202.25 L189.14 202.20 L189.62 202.14 L190.09 202.09 L190.56 202.04 L191.04 201.98 L191.51 201.93 L191.98 201.88 L192.46 201.82 L192.93 201.77 L193.40 201.72 L193.88 201.67 L194.35 201.61 L194.82 201.56 L195.30 201.51 L195.77 201.45 L196.25 201.40 L196.72 201.35 L197.19 201.29 L197.67 201.24 L198.14 201.19 L198.61 201.13 L199.09 201.08 L199.56 201.03 L200.03 200.97 L200.51 200.92 L200.98 200.87 L201.45 200.81 L201.93 200.76 L202.40 200.71 L202.87 200.65 L203.35 200.60 L203.82 200.55 L204.30 200.49 L204.77 200.44 L205.24 200.38 L205.72 200.33 L206.19 200.28 L206.66 200.22 L207.14 200.17 L207.61 200.12 L208.08 200.06 L208.56 200.01 L209.03 199.95 L209.50 199.90 L209.98 199.85 L210.45 199.79 L210.92 199.74 L211.40 199.68 L211.87 199.63 L212.35 199.58 L212.82 199.52 L213.29 199.47 L213.77 199.41 L214.24 199.36 L214.71 199.30 L215.19 199.25 L215.66 199.20 L216.13 199.14 L216.61 199.09 L217.08 199.03 L217.55 198.98 L218.03 198.92 L218.50 198.87 L218.97 198.81 L219.45 198.76 L219.92 198.71 L220.40 198.65 L220.87 198.60 L221.34 198.54 L221.82 198.49 L222.29 198.43 L222.76 198.38 L223.24 198.32 L223.71 198.27 L224.18 198.21 L224.66 198.16 L225.13 198.10 L225.60 198.05 L226.08 197.99 L226.55 197.94 L227.03 197.88 L227.50 197.83 L227.97 197.77 L228.45 197.71 L228.92 197.66 L229.39 197.60 L229.87 197.55 L230.34 197.49 L230.81 197.44 L231.29 197.38 L231.76 197.33 L232.23 197.27 L232.71 197.21 L233.18 197.16 L233.65 197.10 L234.13 197.05 L234.60 196.99 L235.08 196.94 L235.55 196.88 L236.02 196.82 L236.50 196.77 L236.97 196.71 L237.44 196.66 L237.92 196.60 L238.39 196.54 L238.86 196.49 L239.34 196.43 L239.81 196.37 L240.28 196.32 L240.76 196.26 L241.23 196.20 L241.70 196.15 L242.18 196.09 L242.65 196.03 L243.13 195.98 L243.60 195.92 L244.07 195.86 L244.55 195.81 L245.02 195.75 L245.49 195.69 L245.97 195.64 L246.44 195.58 L246.91 195.52 L247.39 195.47 L247.86 195.41 L248.33 195.35 L248.81 195.29 L249.28 195.24 L249.75 195.18 L250.23 195.12 L250.70 195.06 L251.18 195.01 L251.65 194.95 L252.12 194.89 L252.60 194.83 L253.07 194.78 L253.54 194.72 L254.02 194.66 L254.49 194.60 L254.96 194.54 L255.44 194.49 L255.91 194.43 L256.38 194.37 L256.86 194.31 L257.33 194.25 L257.80 194.20 L258.28 194.14 L258.75 194.08 L259.23 194.02 L259.70 193.96 L260.17 193.90 L260.65 193.85 L261.12 193.79 L261.59 193.73 L262.07 193.67 L262.54 193.61 L263.01 193.55 L263.49 193.49 L263.96 193.43 L264.43 193.37 L264.91 193.32 L265.38 193.26 L265.85 193.20 L266.33 193.14 L266.80 193.08 L267.28 193.02 L267.75 192.96 L268.22 192.90 L268.70 192.84 L269.17 192.78 L269.64 192.72 L270.12 192.66 L270.59 192.60 L271.06 192.54 L271.54 192.48 L272.01 192.42 L272.48 192.36 L272.96 192.30 L273.43 192.24 L273.90 192.18 L274.38 192.12 L274.85 192.06 L275.33 192.00 L275.80 191.94 L276.27 191.88 L276.75 191.82 L277.22 191.76 L277.69 191.70 L278.17 191.64 L278.64 191.57 L279.11 191.51 L279.59 191.45 L280.06 191.39 L280.53 191.33 L281.01 191.27 L281.48 191.21 L281.95 191.15 L282.43 191.08 L282.90 191.02 L283.38 190.96 L283.85 190.89 L284.32 190.83 L284.80 190.76 L285.27 190.70 L285.74 190.63 L286.22 190.56 L286.69 190.49 L287.16 190.42 L287.64 190.35 L288.11 190.27 L288.58 190.20 L289.06 190.12 L289.53 190.04 L290.01 189.96 L290.48 189.88 L290.95 189.79 L291.43 189.71 L291.90 189.62 L292.37 189.53 L292.85 189.44 L293.32 189.34 L293.79 189.24 L294.27 189.14 L294.74 189.04 L295.21 188.93 L295.69 188.82 L296.16 188.71 L296.63 188.60 L297.11 188.48 L297.58 188.36 L298.06 188.24 L298.53 188.11 L299.00 187.98 L299.48 187.85 L299.95 187.71 L300.42 187.57 L300.90 187.42 L301.37 187.28 L301.84 187.13 L302.32 186.97 L302.79 186.82 L303.26 186.67 L303.74 186.51 L304.21 186.36 L304.68 186.20 L305.16 186.05 L305.63 185.90 L306.11 185.74 L306.58 185.60 L307.05 185.45 L307.53 185.31 L308.00 185.17 L308.47 185.03 L308.95 184.90 L309.42 184.78 L309.89 184.66 L310.37 184.55 L310.84 184.44 L311.31 184.34 L311.79 184.24 L312.26 184.16 L312.73 184.07 L313.21 184.00 L313.68 183.93 L314.16 183.87 L314.63 183.82 L315.10 183.78 L315.58 183.75 L316.05 183.72 L316.52 183.72 L317.00 183.72 L317.47 183.72 L317.94 183.72 L318.42 183.72 L318.89 183.72 L319.36 183.72 L319.84 183.72 L320.31 183.72 L320.78 183.72 L321.26 183.72 L321.73 183.72 L322.21 183.72 L322.68 183.72 L323.15 183.72 L323.63 183.72 L324.10 183.72 L324.57 183.72 L325.05 183.72 L325.52 183.72 L325.99 183.72 L326.47 183.72 L326.94 183.72 L327.41 183.72 L327.89 183.72 L328.36 183.72 L328.83 183.72 L329.31 183.72 L329.78 183.72 L330.26 183.72 L330.73 183.72 L331.20 183.72 L331.68 183.72 L332.15 183.72 L332.62 183.72 L333.10 183.72 L333.57 183.72 L334.04 183.72 L334.52 183.72 L334.99 183.73 L335.46 183.73 L335.94 183.73 L336.41 183.73 L336.88 183.73 L337.36 183.73 L337.83 183.73 L338.31 183.73 L338.78 183.73 L339.25 183.73 L339.73 183.73 L340.20 183.73 L340.67 183.73 L341.15 183.73 L341.62 183.73 L342.09 183.73 L342.57 183.73 L343.04 183.73 L343.51 183.73 L343.99 183.73 L344.46 183.73 L344.93 183.73 L345.41 183.73 L345.88 183.73 L346.36 183.73 L346.83 183.73 L347.30 183.73 L347.78 183.73 L348.25 183.73 L348.72 183.73 L349.20 183.73 L349.67 183.73 L350.14 183.73 L350.62 183.73 L351.09 183.73 L351.56 183.73 L352.04 183.73 L352.51 183.73 L352.98 183.73 L353.46 183.73 L353.93 183.73 L354.41 183.73 L354.88 183.73 L355.35 183.73 L355.83 183.73 L356.30 183.72 L356.77 183.72 L357.25 183.72 L357.72 183.72 L358.19 183.72 L358.67 183.72 L359.14 183.72 L359.61 183.72 L360.09 183.72 L360.56 183.72 L361.04 183.72 L361.51 183.72 L361.98 183.72 L362.46 183.72 L362.93 183.72 L363.40 183.72 L363.88 183.72 L364.35 183.72 L364.82 183.72 L365.30 183.72 L365.77 183.72 L366.24 183.72 L366.72 183.72 L367.19 183.72 L367.66 183.72 L368.14 183.72 L368.61 183.72 L369.09 183.72 L369.56 183.72 L370.03 183.72 L370.51 183.72 L370.98 183.72 L371.45 183.72 L371.93 183.72 L372.40 183.72 L372.87 183.72 L373.35 183.72 L373.82 183.72 L374.29 183.72 L374.77 183.72 L375.24 183.72 L375.71 183.72 L376.19 183.72 L376.66 183.72 L377.14 183.72 L377.61 183.72 L378.08 183.72 L378.56 183.72 L379.03 183.72 L379.50 183.72 L379.98 183.72 L380.45 183.72 L380.92 183.72 L381.40 183.72 L381.87 183.72 L382.34 183.72 L382.82 183.72 L383.29 183.72 L383.76 183.72 L384.24 183.72 L384.71 183.72 L385.19 183.72 L385.66 183.72 L386.13 183.72 L386.61 183.72 L387.08 183.73 L387.55 183.73 L388.03 183.73 L388.50 183.73" stroke="#8778B3"/>
<path d="M57.50 58.92 L57.97 61.29 L58.45 63.76 L58.92 66.32 L59.39 68.96 L59.87 71.65 L60.34 74.38 L60.81 77.13 L61.29 79.89 L61.76 82.63 L62.24 85.35 L62.71 88.01 L63.18 90.62 L63.66 93.14 L64.13 95.56 L64.60 97.89 L65.08 100.12 L65.55 102.26 L66.02 104.32 L66.50 106.31 L66.97 108.21 L67.44 110.05 L67.92 111.83 L68.39 113.55 L68.86 115.22 L69.34 116.85 L69.81 118.43 L70.29 119.97 L70.76 121.49 L71.23 122.98 L71.71 124.45 L72.18 125.91 L72.65 127.36 L73.13 128.79 L73.60 130.22 L74.07 131.63 L74.55 133.03 L75.02 134.41 L75.49 135.77 L75.97 137.12 L76.44 138.45 L76.91 139.76 L77.39 141.04 L77.86 142.30 L78.34 143.54 L78.81 144.75 L79.28 145.93 L79.76 147.09 L80.23 148.21 L80.70 149.31 L81.18 150.37 L81.65 151.41 L82.12 152.42 L82.60 153.40 L83.07 154.35 L83.54 155.28 L84.02 156.19 L84.49 157.07 L84.96 157.93 L85.44 158.77 L85.91 159.59 L86.39 160.39 L86.86 161.17 L87.33 161.93 L87.81 162.67 L88.28 163.40 L88.75 164.11 L89.23 164.80 L89.70 165.49 L90.17 166.15 L90.65 166.81 L91.12 167.46 L91.59 168.09 L92.07 168.71 L92.54 169.33 L93.02 169.94 L93.49 170.54 L93.96 171.13 L94.44 171.72 L94.91 172.30 L95.38 172.89 L95.86 173.46 L96.33 174.04 L96.80 174.61 L97.28 175.19 L97.75 175.76 L98.22 176.33 L98.70 176.90 L99.17 177.47 L99.64 178.03 L100.12 178.58 L100.59 179.13 L101.07 179.66 L101.54 180.18 L102.01 180.69 L102.49 181.19 L102.96 181.67 L103.43 182.13 L103.91 182.58 L104.38 183.00 L104.85 183.40 L105.33 183.78 L105.80 184.14 L106.27 184.48 L106.75 184.80 L107.22 185.10 L107.69 185.39 L108.17 185.67 L108.64 185.95 L109.12 186.22 L109.59 186.48 L110.06 186.75 L110.54 187.01 L111.01 187.28 L111.48 187.56 L111.96 187.85 L112.43 188.14 L112.90 188.44 L113.38 188.74 L113.85 189.05 L114.32 189.36 L114.80 189.67 L115.27 189.98 L115.74 190.30 L116.22 190.61 L116.69 190.93 L117.17 191.24 L117.64 191.55 L118.11 191.86 L118.59 192.16 L119.06 192.46 L119.53 192.75 L120.01 193.04 L120.48 193.32 L120.95 193.59 L121.43 193.85 L121.90 194.11 L122.37 194.36 L122.85 194.61 L123.32 194.84 L123.79 195.07 L124.27 195.30 L124.74 195.52 L125.22 195.73 L125.69 195.93 L126.16 196.13 L126.64 196.33 L127.11 196.51 L127.58 196.70 L128.06 196.87 L128.53 197.05 L129.00 197.21 L129.48 197.37 L129.95 197.53 L130.42 197.68 L130.90 197.83 L131.37 197.97 L131.84 198.11 L132.32 198.24 L132.79 198.37 L133.27 198.49 L133.74 198.61 L134.21 198.73 L134.69 198.84 L135.16 198.95 L135.63 199.05 L136.11 199.15 L136.58 199.25 L137.05 199.34 L137.53 199.44 L138.00 199.52 L138.47 199.61 L138.95 199.69 L139.42 199.77 L139.89 199.85 L140.37 199.92 L140.84 199.99 L141.32 200.06 L141.79 200.13 L142.26 200.20 L142.74 200.26 L143.21 200.32 L143.68 200.38 L144.16 200.44 L144.63 200.50 L145.10 200.55 L145.58 200.61 L146.05 200.66 L146.52 200.71 L147.00 200.76 L147.47 200.81 L147.94 200.86 L148.42 200.90 L148.89 200.95 L149.37 200.99 L149.84 201.04 L150.31 201.08 L150.79 201.12 L151.26 201.16 L151.73 201.20 L152.21 201.23 L152.68 201.27 L153.15 201.30 L153.63 201.34 L154.10 201.37 L154.57 201.40 L155.05 201.43 L155.52 201.46 L155.99 201.49 L156.47 201.51 L156.94 201.54 L157.42 201.57 L157.89 201.59 L158.36 201.61 L158.84 201.63 L159.31 201.65 L159.78 201.67 L160.26 201.69 L160.73 201.71 L161.20 201.72 L161.68 201.74 L162.15 201.75 L162.62 201.77 L163.10 201.78 L163.57 201.79 L164.05 201.80 L164.52 201.81 L164.99 201.82 L165.47 201.82 L165.94 201.83 L166.41 201.84 L166.89 201.84 L167.36 201.84 L167.83 201.85 L168.31 201.85 L168.78 201.85 L169.25 201.85 L169.73 201.85 L170.20 201.85 L170.67 201.84 L171.15 201.84 L171.62 201.84 L172.10 201.83 L172.57 201.82 L173.04 201.82 L173.52 201.81 L173.99 201.80 L174.46 201.79 L174.94 201.78 L175.41 201.77 L175.88 201.76 L176.36 201.74 L176.83 201.73 L177.30 201.72 L177.78 201.70 L178.25 201.69 L178.72 201.67 L179.20 201.65 L179.67 201.63 L180.15 201.62 L180.62 201.60 L181.09 201.58 L181.57 201.56 L182.04 201.53 L182.51 201.51 L182.99 201.49 L183.46 201.47 L183.93 201.44 L184.41 201.42 L184.88 201.39 L185.35 201.36 L185.83 201.34 L186.30 201.31 L186.77 201.28 L187.25 201.25 L187.72 201.22 L188.20 201.19 L188.67 201.16 L189.14 201.13 L189.62 201.10 L190.09 201.07 L190.56 201.04 L191.04 201.00 L191.51 200.97 L191.98 200.94 L192.46 200.90 L192.93 200.87 L193.40 200.83 L193.88 200.79 L194.35 200.76 L194.82 200.72 L195.30 200.68 L195.77 200.64 L196.25 200.60 L196.72 200.56 L197.19 200.52 L197.67 200.48 L198.14 200.44 L198.61 200.40 L199.09 200.36 L199.56 200.32 L200.03 200.28 L200.51 200.23 L200.98 200.19 L201.45 200.15 L201.93 200.10 L202.40 200.06 L202.87 200.02 L203.35 199.97 L203.82 199.93 L204.30 199.88 L204.77 199.83 L205.24 199.79 L205.72 199.74 L206.19 199.69 L206.66 199.65 L207.14 199.60 L207.61 199.55 L208.08 199.50 L208.56 199.46 L209.03 199.41 L209.50 199.36 L209.98 199.31 L210.45 199.26 L210.92 199.21 L211.40 199.16 L211.87 199.11 L212.35 199.06 L212.82 199.01 L213.29 198.96 L213.77 198.91 L214.24 198.86 L214.71 198.81 L215.19 198.76 L215.66 198.71 L216.13 198.65 L216.61 198.60 L217.08 198.55 L217.55 198.50 L218.03 198.45 L218.50 198.39 L218.97 198.34 L219.45 198.29 L219.92 198.24 L220.40 198.18 L220.87 198.13 L221.34 198.08 L221.82 198.03 L222.29 197.97 L222.76 197.92 L223.24 197.87 L223.71 197.82 L224.18 197.76 L224.66 197.71 L225.13 197.66 L225.60 197.60 L226.08 197.55 L226.55 197.50 L227.03 197.45 L227.50 197.39 L227.97 197.34 L228.45 197.29 L228.92 197.23 L229.39 197.18 L229.87 197.13 L230.34 197.08 L230.81 197.02 L231.29 196.97 L231.76 196.92 L232.23 196.87 L232.71 196.82 L233.18 196.76 L233.65 196.71 L234.13 196.66 L234.60 196.61 L235.08 196.56 L235.55 196.51 L236.02 196.46 L236.50 196.40 L236.97 196.35 L237.44 196.30 L237.92 196.25 L238.39 196.20 L238.86 196.15 L239.34 196.10 L239.81 196.05 L240.28 196.00 L240.76 195.95 L241.23 195.90 L241.70 195.85 L242.18 195.79 L242.65 195.74 L243.13 195.69 L243.60 195.64 L244.07 195.59 L244.55 195.54 L245.02 195.50 L245.49 195.45 L245.97 195.40 L246.44 195.35 L246.91 195.30 L247.39 195.25 L247.86 195.20 L248.33 195.15 L248.81 195.10 L249.28 195.05 L249.75 195.00 L250.23 194.95 L250.70 194.91 L251.18 194.86 L251.65 194.81 L252.12 194.76 L252.60 194.71 L253.07 194.66 L253.54 194.62 L254.02 194.57 L254.49 194.52 L254.96 194.47 L255.44 194.42 L255.91 194.38 L256.38 194.33 L256.86 194.28 L257.33 194.23 L257.80 194.19 L258.28 194.14 L258.75 194.09 L259.23 194.04 L259.70 194.00 L260.17 193.95 L260.65 193.90 L261.12 193.86 L261.59 193.81 L262.07 193.76 L262.54 193.72 L263.01 193.67 L263.49 193.63 L263.96 193.58 L264.43 193.53 L264.91 193.49 L265.38 193.44 L265.85 193.40 L266.33 193.35 L266.80 193.31 L267.28 193.26 L267.75 193.22 L268.22 193.17 L268.70 193.12 L269.17 193.08 L269.64 193.03 L270.12 192.99 L270.59 192.95 L271.06 192.90 L271.54 192.86 L272.01 192.81 L272.48 192.77 L272.96 192.72 L273.43 192.68 L273.90 192.64 L274.38 192.59 L274.85 192.55 L275.33 192.50 L275.80 192.46 L276.27 192.42 L276.75 192.37 L277.22 192.33 L277.69 192.29 L278.17 192.24 L278.64 192.20 L279.11 192.16 L279.59 192.12 L280.06 192.07 L280.53 192.03 L281.01 191.99 L281.48 191.94 L281.95 191.90 L282.43 191.86 L282.90 191.81 L283.38 191.77 L283.85 191.72 L284.32 191.68 L284.80 191.63 L285.27 191.58 L285.74 191.53 L286.22 191.48 L286.69 191.43 L287.16 191.38 L287.64 191.32 L288.11 191.27 L288.58 191.21 L289.06 191.15 L289.53 191.08 L290.01 191.02 L290.48 190.95 L290.95 190.88 L291.43 190.81 L291.90 190.73 L292.37 190.65 L292.85 190.57 L293.32 190.49 L293.79 190.40 L294.27 190.31 L294.74 190.22 L295.21 190.12 L295.69 190.02 L296.16 189.92 L296.63 189.81 L297.11 189.69 L297.58 189.58 L298.06 189.46 L298.53 189.33 L299.00 189.20 L299.48 189.07 L299.95 188.93 L300.42 188.79 L300.90 188.64 L301.37 188.49 L301.84 188.33 L302.32 188.17 L302.79 188.01 L303.26 187.84 L303.74 187.68 L304.21 187.51 L304.68 187.34 L305.16 187.17 L305.63 187.00 L306.11 186.83 L306.58 186.66 L307.05 186.49 L307.53 186.32 L308.00 186.15 L308.47 185.99 L308.95 185.82 L309.42 185.67 L309.89 185.51 L310.37 185.36 L310.84 185.21 L311.31 185.07 L311.79 184.93 L312.26 184.80 L312.73 184.67 L313.21 184.55 L313.68 184.44 L314.16 184.33 L314.63 184.24 L315.10 184.15 L315.58 184.06 L316.05 183.99 L316.52 183.93 L317.00 183.87 L317.47 183.83 L317.94 183.79 L318.42 183.76 L318.89 183.74 L319.36 183.72 L319.84 183.72 L320.31 183.72 L320.78 183.72 L321.26 183.72 L321.73 183.72 L322.21 183.72 L322.68 183.72 L323.15 183.72 L323.63 183.72 L324.10 183.72 L324.57 183.72 L325.05 183.72 L325.52 183.72 L325.99 183.72 L326.47 183.72 L326.94 183.72 L327.41 183.72 L327.89 183.72 L328.36 183.72 L328.83 183.72 L329.31 183.72 L329.78 183.72 L330.26 183.72 L330.73 183.72 L331.20 183.72 L331.68 183.72 L332.15 183.72 L332.62 183.72 L333.10 183.72 L333.57 183.72 L334.04 183.72 L334.52 183.72 L334.99 183.72 L335.46 183.72 L335.94 183.72 L336.41 183.72 L336.88 183.72 L337.36 183.72 L337.83 183.72 L338.31 183.72 L338.78 183.72 L339.25 183.72 L339.73 183.72 L340.20 183.72 L340.67 183.72 L341.15 183.72 L341.62 183.72 L342.09 183.72 L342.57 183.73 L343.04 183.73 L343.51 183.73 L343.99 183.73 L344.46 183.73 L344.93 183.73 L345.41 183.73 L345.88 183.73 L346.36 183.73 L346.83 183.73 L347.30 183.73 L347.78 183.73 L348.25 183.73 L348.72 183.73 L349.20 183.73 L349.67 183.73 L350.14 183.73 L350.62 183.73 L351.09 183.73 L351.56 183.73 L352.04 183.73 L352.51 183.73 L352.98 183.73 L353.46 183.73 L353.93 183.73 L354.41 183.73 L354.88 183.73 L355.35 183.73 L355.83 183.73 L356.30 183.73 L356.77 183.73 L357.25 183.73 L357.72 183.72 L358.19 183.72 L358.67 183.72 L359.14 183.72 L359.61 183.72 L360.09 183.72 L360.56 183.72 L361.04 183.72 L361.51 183.72 L361.98 183.72 L362.46 183.72 L362.93 183.72 L363.40 183.72 L363.88 183.72 L364.35 183.72 L364.82 183.72 L365.30 183.72 L365.77 183.72 L366.24 183.72 L366.72 183.72 L367.19 183.72 L367.66 183.72 L368.14 183.72 L368.61 183.72 L369.09 183.72 L369.56 183.72 L370.03 183.72 L370.51 183.72 L370.98 183.72 L371.45 183.72 L371.93 183.72 L372.40 183.72 L372.87 183.72 L373.35 183.72 L373.82 183.72 L374.29 183.72 L374.77 183.72 L375.24 183.72 L375.71 183.72 L376.19 183.72 L376.66 183.72 L377.14 183.72 L377.61 183.72 L378.08 183.72 L378.56 183.72 L379.03 183.72 L379.50 183.72 L379.98 183.72 L380.45 183.72 L380.92 183.72 L381.40 183.72 L381.87 183.72 L382.34 183.72 L382.82 183.72 L383.29 183.72 L383.76 183.72 L384.24 183.72 L384.71 183.72 L385.19 183.72 L385.66 183.72 L386.13 183.72 L386.61 183.72 L387.08 183.72 L387.55 183.72 L388.03 183.72 L388.50 183.73" stroke="#C56E1A"/>
</g>
<line x1="57.50" y1="183.45" x2="388.50" y2="183.45" stroke="#666" stroke-width="0.34"/>
<rect x="57.50" y="2.50" width="331.00" height="204.50" stroke="#848484" stroke-width="1" fill="none"/>
<path d="M70.50 207.00 v-4.00 M70.50 2.50 v4.00 M86.40 207.00 v-2.50 M86.40 2.50 v2.50 M102.30 207.00 v-2.50 M102.30 2.50 v2.50 M118.20 207.00 v-2.50 M118.20 2.50 v2.50 M134.10 207.00 v-2.50 M134.10 2.50 v2.50 M150.00 207.00 v-4.00 M150.00 2.50 v4.00 M165.90 207.00 v-2.50 M165.90 2.50 v2.50 M181.80 207.00 v-2.50 M181.80 2.50 v2.50 M197.70 207.00 v-2.50 M197.70 2.50 v2.50 M213.60 207.00 v-2.50 M213.60 2.50 v2.50 M229.50 207.00 v-4.00 M229.50 2.50 v4.00 M245.40 207.00 v-2.50 M245.40 2.50 v2.50 M261.30 207.00 v-2.50 M261.30 2.50 v2.50 M277.20 207.00 v-2.50 M277.20 2.50 v2.50 M293.10 207.00 v-2.50 M293.10 2.50 v2.50 M309.00 207.00 v-4.00 M309.00 2.50 v4.00 M324.90 207.00 v-2.50 M324.90 2.50 v2.50 M340.80 207.00 v-2.50 M340.80 2.50 v2.50 M356.70 207.00 v-2.50 M356.70 2.50 v2.50 M372.60 207.00 v-2.50 M372.60 2.50 v2.50 M388.50 207.00 v-4.00 M388.50 2.50 v4.00 M57.50 195.10 h2.50 M388.50 195.10 h-2.50 M57.50 183.50 h4.00 M388.50 183.50 h-4.00 M57.50 171.90 h2.50 M388.50 171.90 h-2.50 M57.50 160.30 h2.50 M388.50 160.30 h-2.50 M57.50 148.70 h2.50 M388.50 148.70 h-2.50 M57.50 137.10 h2.50 M388.50 137.10 h-2.50 M57.50 125.50 h4.00 M388.50 125.50 h-4.00 M57.50 113.90 h2.50 M388.50 113.90 h-2.50 M57.50 102.30 h2.50 M388.50 102.30 h-2.50 M57.50 90.70 h2.50 M388.50 90.70 h-2.50 M57.50 79.10 h2.50 M388.50 79.10 h-2.50 M57.50 67.50 h4.00 M388.50 67.50 h-4.00 M57.50 55.90 h2.50 M388.50 55.90 h-2.50 M57.50 44.30 h2.50 M388.50 44.30 h-2.50 M57.50 32.70 h2.50 M388.50 32.70 h-2.50 M57.50 21.10 h2.50 M388.50 21.10 h-2.50 M57.50 9.50 h4.00 M388.50 9.50 h-4.00" stroke="#666" stroke-width="0.75" fill="none"/>
<g font-family="Liberation Serif, serif" font-size="16.8px" fill="#646464" style="filter:grayscale(1)">
<text x="70.50" y="224.9" text-anchor="middle">0.6</text>
<text x="150.00" y="224.9" text-anchor="middle">0.7</text>
<text x="229.50" y="224.9" text-anchor="middle">0.8</text>
<text x="309.00" y="224.9" text-anchor="middle">0.9</text>
<text x="388.50" y="224.9" text-anchor="middle">1.0</text>
<text x="53.9" y="189.55" text-anchor="end">0.00</text>
<text x="53.9" y="131.55" text-anchor="end">0.05</text>
<text x="53.9" y="73.55" text-anchor="end">0.10</text>
<text x="53.9" y="15.55" text-anchor="end">0.15</text>
<text x="223.2" y="250.9" text-anchor="middle" font-size="16.5px">z</text>
</g>
<g style="filter:grayscale(1)"><text transform="translate(14.5,108.3) rotate(-84)" font-family="Liberation Serif, serif" font-style="italic" font-size="14.6px" fill="#646464">&#x3d5;</text></g>
<line x1="314.8" y1="16.05" x2="337.2" y2="16.05" stroke="#5E81B5" stroke-width="1.8"/>
<line x1="314.8" y1="44.98" x2="337.2" y2="44.98" stroke="#E19C24" stroke-width="1.8"/>
<line x1="314.8" y1="73.91" x2="337.2" y2="73.91" stroke="#8FB032" stroke-width="1.8"/>
<line x1="314.8" y1="102.84" x2="337.2" y2="102.84" stroke="#EB6235" stroke-width="1.8"/>
<line x1="314.8" y1="131.77" x2="337.2" y2="131.77" stroke="#8778B3" stroke-width="1.8"/>
<line x1="314.8" y1="160.70" x2="337.2" y2="160.70" stroke="#C56E1A" stroke-width="1.8"/>
<g font-family="Liberation Serif, serif" font-size="16.5px" fill="#000" style="filter:grayscale(1)">
<text x="346" y="22.15">t=0</text>
<text x="346" y="51.08">t=1</text>
<text x="346" y="80.01">t=2</text>
<text x="346" y="108.94">t=3</text>
<text x="346" y="137.87">t=4</text>
<text x="346" y="166.80">t=5</text>
</g>
</svg>
</body></html>
